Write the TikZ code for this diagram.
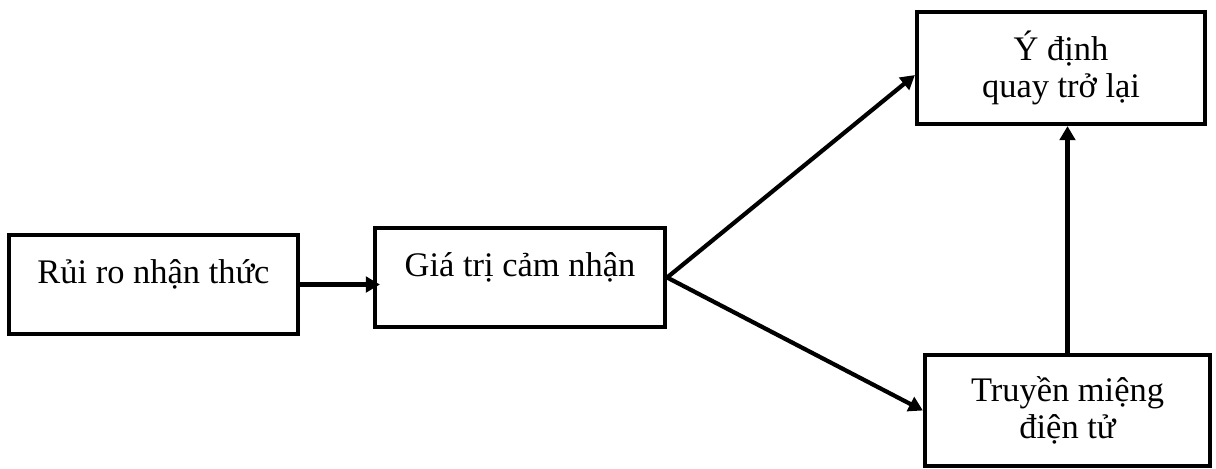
\documentclass[tikz,border=0pt]{standalone}
\usepackage{fontspec}
\setmainfont{Liberation Serif}
\usetikzlibrary{arrows.meta, positioning, calc}

\begin{document}
\begin{tikzpicture}[x=0.025cm, y=-0.025cm,
    box/.style={draw, line width=3pt, rectangle, inner sep=0pt, align=center,
                font=\fontsize{24.5pt}{26.5pt}\selectfont},
    oneline/.style={text height=18pt, text depth=19pt},
    link/.style={line width=3pt, -{Triangle[length=10pt, width=11pt]}}]
    \useasboundingbox (0,0) rectangle (1216,468);

    %--- the four boxes
    \node[box, oneline, minimum width=289*0.025cm, minimum height=99*0.025cm] (RR) at (153.5,284.5) {Rủi ro nhận thức};
    \node[box, oneline, minimum width=290*0.025cm, minimum height=99*0.025cm] (GT) at (520,277.5) {Giá trị cảm nhận};
    \node[box, minimum width=288*0.025cm, minimum height=112*0.025cm] (YD) at (1061,68) {Ý định\\quay trở lại};
    \node[box, minimum width=285*0.025cm, minimum height=111*0.025cm] (TM) at (1067.5,410.5) {Truyền miệng\\điện tử};

    %--- arrows
    \draw[link, shorten >=-5pt] (RR.east) -- (RR.east -| GT.west);
    \draw[link] (GT.east) -- ([yshift=-5pt]YD.west);
    \draw[link] (GT.east) -- (TM.west);
    \draw[link] (TM.north) -- (TM.north |- YD.south);
\end{tikzpicture}
\end{document}
